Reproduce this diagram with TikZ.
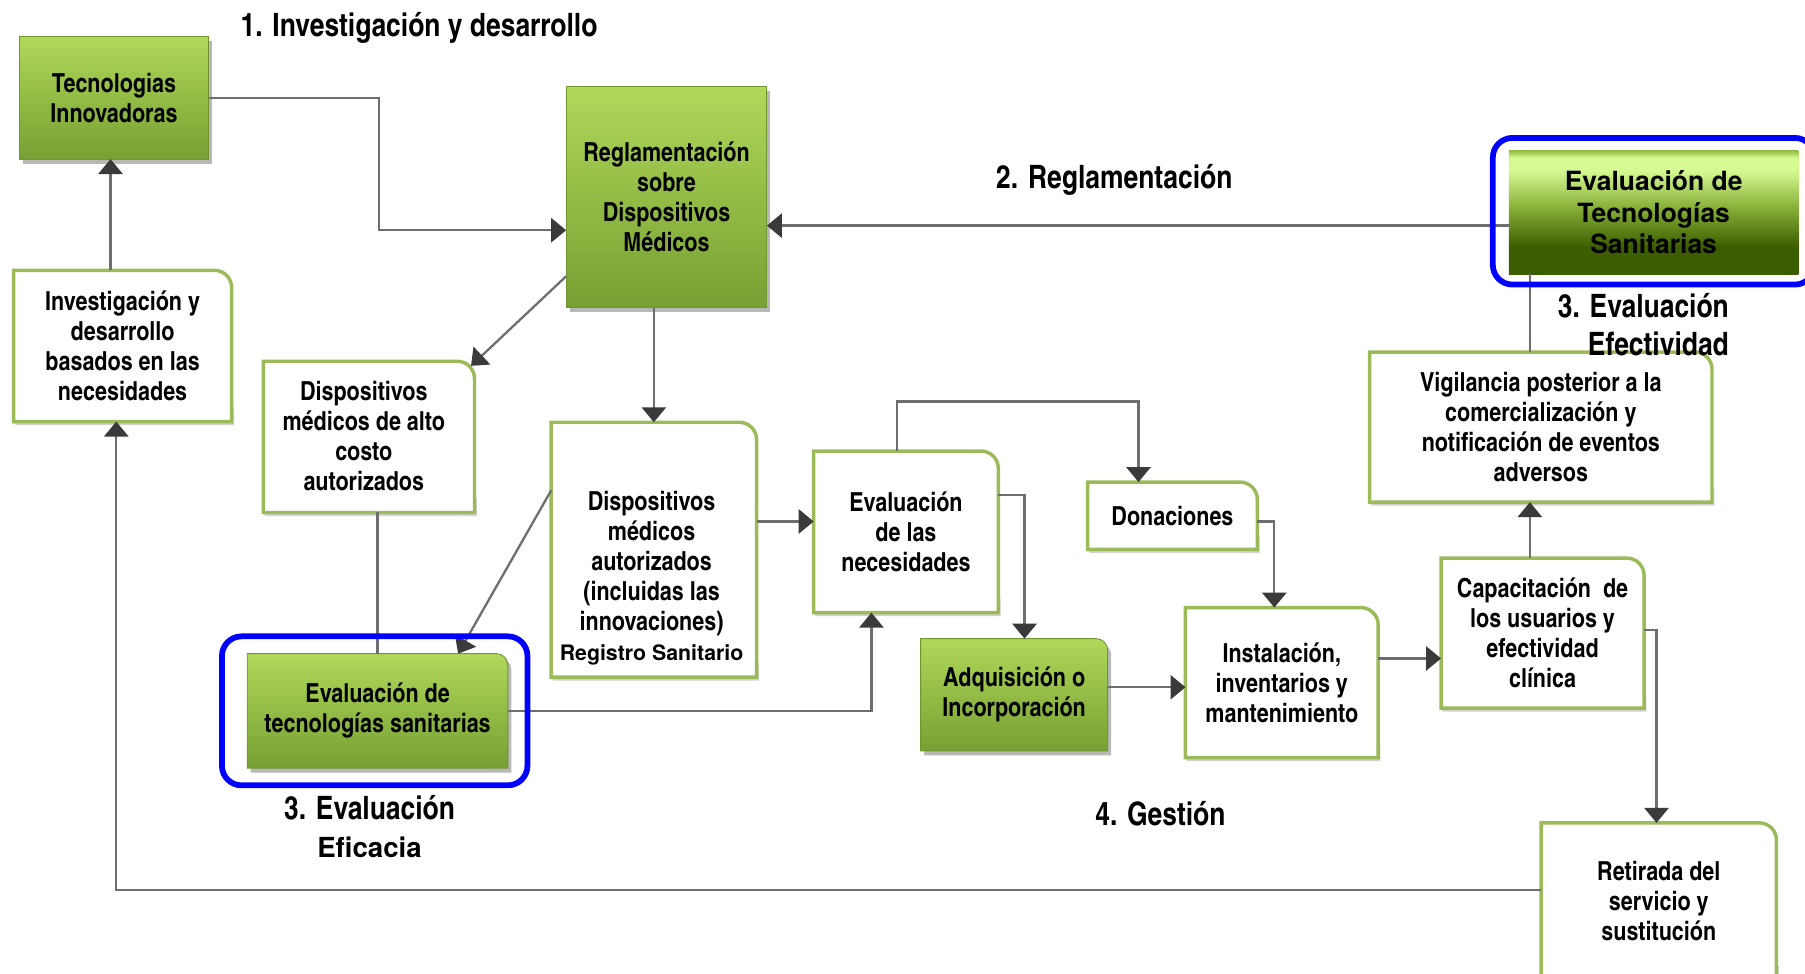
\documentclass[tikz,border=0pt]{standalone}
\usepackage{fontspec}
\newfontfamily\cnb{texgyreheroscn-bold.otf}
\newfontfamily\hvb{texgyreheros-bold.otf}
\usetikzlibrary{arrows.meta,calc,backgrounds}

\definecolor{gtop}{RGB}{176,216,90}
\definecolor{gbot}{RGB}{118,160,50}
\definecolor{gedge}{RGB}{112,150,48}
\definecolor{wbord}{RGB}{155,187,89}
\definecolor{conn}{RGB}{110,110,110}
\definecolor{tipc}{RGB}{58,58,58}
\definecolor{frameblue}{RGB}{0,0,255}
\definecolor{etsd}{RGB}{60,94,0}
\definecolor{etsm}{RGB}{135,176,56}
\definecolor{etsl}{RGB}{214,250,146}
\definecolor{etst}{RGB}{146,188,66}

% dark-to-light green used by the health technology assessment box
\pgfdeclareverticalshading{etsshade}{100bp}{color(0bp)=(etsd); color(25bp)=(etsd);
  color(36bp)=(etsd); color(52bp)=(etsm); color(67bp)=(etsl); color(72bp)=(etsl);
  color(75bp)=(etst); color(100bp)=(etst)}

\tikzset{
  x=1pt, y=1pt,
  body/.style={font=\cnb\fontsize{22.8}{26}\selectfont, align=center, inner sep=0pt},
  label/.style={font=\cnb\fontsize{28}{33}\selectfont, align=center, inner sep=0pt},
  arr/.style={draw=conn, line width=2pt, -{Triangle[length=13pt,width=21pt,color=tipc]}},
  plain/.style={draw=conn, line width=2pt},
  wborder/.style={draw=wbord, line width=3pt, fill=white},
  gborder/.style={draw=gedge, line width=0.8pt, top color=gtop, bottom color=gbot},
  shadowc/.style={fill=black, opacity=0.28},
  bluefr/.style={draw=frameblue, line width=5pt, rounded corners=17pt},
}

\begin{document}
\begin{tikzpicture}
\useasboundingbox (0,0) rectangle (1568,-846);
\clip (0,0) rectangle (1568,-846);

% ---------- boxes ----------
\node[body, minimum width=164pt, minimum height=106pt] (tec) at (99,-85) {Tecnologias\\Innovadoras};
\node[body, minimum width=174pt, minimum height=192pt] (reg) at (579,-171) {Reglamentación\\sobre\\Dispositivos\\Médicos};
\node[body, font=\hvb\fontsize{23}{27.5}\selectfont, minimum width=251pt, minimum height=107pt] (etsR) at (1436.5,-184.5) {Evaluación de\\Tecnologías\\Sanitarias};
\node[body, minimum width=189pt, minimum height=131pt] (inv) at (106.5,-300.5) {Investigación y\\desarrollo\\basados en las\\necesidades};
\node[body, minimum width=183pt, minimum height=131pt] (alto) at (320.5,-379.5) {};
\node[body] (altotext) at (316,-378.5) {Dispositivos\\médicos de alto\\costo\\autorizados};
\node[body, minimum width=178pt, minimum height=221pt] (dma) at (568,-477.5) {};
\node[body] (dmatext) at (566,-502.5) {Dispositivos\\médicos\\autorizados\\(incluidas las\\innovaciones)\\{\hvb\fontsize{18.5}{26}\selectfont Registro Sanitario}};
\node[body, minimum width=226pt, minimum height=99pt] (etsE) at (328,-617.5) {Evaluación de\\tecnologías sanitarias};
\node[body, minimum width=160pt, minimum height=140pt] (evn) at (787,-462) {Evaluación\\de las\\necesidades};
\node[body, minimum width=147pt, minimum height=58pt] (don) at (1018.5,-448) {Donaciones};
\node[body, minimum width=162pt, minimum height=97pt] (adq) at (881,-603.5) {Adquisición o\\Incorporación};
\node[body, minimum width=167pt, minimum height=130pt] (ins) at (1113.5,-593) {Instalación,\\inventarios y\\mantenimiento};
\node[body, minimum width=176pt, minimum height=130pt] (cap) at (1340,-550) {Capacitación\ \ de\\los usuarios y\\efectividad\\clínica};
\node[body, minimum width=297pt, minimum height=130pt] (vig) at (1338.5,-371) {Vigilancia posterior a la\\comercialización y\\notificación de eventos\\adversos};
\node[body, minimum width=204pt, minimum height=136pt] (ret) at (1441,-783) {Retirada del\\servicio y\\sustitución};

% ---------- section labels ----------
\node[label] (t1) at (364,-24) {1. Investigación y desarrollo};
\node[label] (t2) at (968,-156) {2. Reglamentación};
\node[label, align=right, anchor=east] (t3r) at (1502,-282) {3. Evaluación\\Efectividad};
\node[label] (t3l) at (321,-718) {3. Evaluación\\{\hvb\fontsize{24}{33}\selectfont Eficacia}};
\node[label] (t4) at (1008,-707) {4. Gestión};

% ---------- box backgrounds ----------
\begin{scope}[on background layer]
  % green boxes with square corners
  \foreach \n in {tec,reg} {
    \fill[shadowc] ([shift={(3pt,-4pt)}]\n.south west) rectangle ([shift={(3pt,-4pt)}]\n.north east);
    \path[gborder] (\n.south west) rectangle (\n.north east);
  }
  % green boxes with one rounded corner
  \foreach \n in {etsE,adq} {
    \fill[shadowc] ([shift={(3pt,-4pt)}]\n.south west) -- ([shift={(3pt,-4pt)}]\n.north west)
      -- ([shift={(-7pt,-4pt)}]\n.north east) arc[start angle=90,end angle=0,radius=10pt]
      -- ([shift={(3pt,-4pt)}]\n.south east) -- cycle;
    \path[gborder] (\n.south west) -- (\n.north west) -- ([xshift=-10pt]\n.north east)
      arc[start angle=90,end angle=0,radius=10pt] -- (\n.south east) -- cycle;
  }
  % assessment box, dark gradient
  \shade[shading=etsshade] (etsR.south west) rectangle (etsR.north east);
  % white boxes with a rounded upper-right corner
  \foreach \n in {inv,alto,dma,evn,don,ins,cap,vig,ret} {
    \fill[black, opacity=0.18] ([shift={(2pt,-3pt)}]\n.south west) -- ([shift={(2pt,-3pt)}]\n.south east)
      -- ([shift={(2pt,12pt)}]\n.south east) -- ([shift={(-1pt,12pt)}]\n.south east) -- ([shift={(-1pt,0pt)}]\n.south west) -- cycle;
    \path[wborder] (\n.south west) -- (\n.north west) -- ([xshift=-15pt]\n.north east)
      arc[start angle=90,end angle=0,radius=15pt] -- (\n.south east) -- cycle;
  }
\end{scope}

% ---------- connectors ----------
\draw[arr] (tec.east) -- ++(148pt,0) |- ([yshift=-29pt]reg.west);
\draw[arr] ([yshift=-11.5pt]etsR.west) -- ([yshift=-11.5pt]etsR.west -| reg.east);
\draw[plain] ([xshift=-9.5pt]vig.north) -- ([xshift=-9.5pt]vig.north |- etsR.south);
\draw[arr] ([xshift=-3pt]tec.south |- inv.north) -- ([xshift=-3pt]tec.south);
\draw[arr] ([yshift=-69pt]reg.west) -- ([shift={(-3pt,-4pt)}]alto.north east);
\draw[arr] (dma.north |- reg.south) -- (dma.north);
\draw[arr] ([yshift=51.5pt]dma.west) -- ([xshift=70pt]etsE.north);
\draw[plain] (etsE.north |- alto.south) -- (etsE.north);
\draw[arr] (etsE.east) -| ([xshift=-30pt]evn.south);
\draw[arr] ([yshift=24.5pt]dma.east) -- ([yshift=24.5pt]dma.east -| evn.west);
\draw[arr] ([xshift=-8pt]evn.north) -- ++(0,43pt) -| ([xshift=-29.5pt]don.north);
\draw[arr] ([yshift=32pt]evn.east) -| ([xshift=9pt]adq.north);
\draw[arr] ([yshift=6.5pt]adq.east) -- ([yshift=6.5pt]adq.east -| ins.west);
\draw[arr] ([yshift=-5pt]don.east) -| ([xshift=-6.5pt]ins.north);
\draw[arr] ([yshift=21pt]ins.east) -- ([yshift=21pt]ins.east -| cap.west);
\draw[arr] ([xshift=-11pt]cap.north) -- ([xshift=-11pt]cap.north |- vig.south);
\draw[arr] ([yshift=3pt]cap.east) -| ([xshift=-2pt]ret.north);
\draw[arr] ([yshift=10pt]ret.west) -| ([xshift=-5.5pt]inv.south);

% ---------- highlight frames ----------
\draw[bluefr] ([shift={(-14pt,11pt)}]etsR.north west) rectangle ([shift={(14pt,-9pt)}]etsR.south east);
\draw[bluefr] ([shift={(-22pt,15pt)}]etsE.north west) rectangle ([shift={(17pt,-15pt)}]etsE.south east);
\end{tikzpicture}
\end{document}
